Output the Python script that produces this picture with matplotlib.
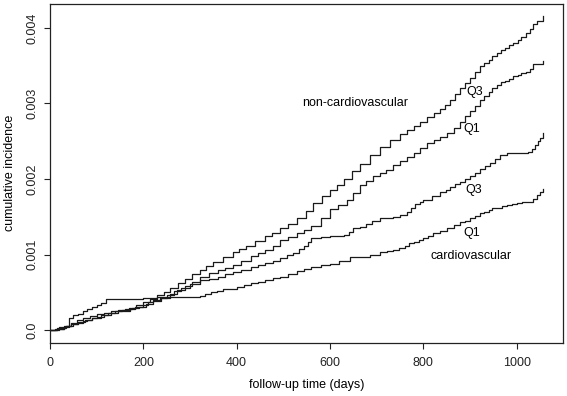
import matplotlib
matplotlib.use("Agg")
import matplotlib.pyplot as plt

plt.rcParams['font.family'] = ['Liberation Sans', 'DejaVu Sans']

# follow-up time (days) and cumulative incidence
nc_q3_t = [0, 15, 30, 45, 60, 75, 90, 110, 125, 140, 155, 170, 185, 200, 215, 230, 245, 257, 275, 290,
           305, 321, 335, 350, 370, 393, 405, 420, 440, 460, 475, 493, 510, 530, 548, 564, 582, 600, 615,
           630, 648, 664, 685, 707, 728, 750, 765, 779, 793, 807, 822, 836, 847, 857, 868, 879, 890, 900,
           910, 921, 930, 940, 948, 957, 966, 975, 984, 993, 1002, 1010, 1020, 1029, 1035, 1043, 1057]
nc_q3_v = [0, 0.00002, 0.00005, 0.00008, 0.00011, 0.00013, 0.00016, 0.0002, 0.00023, 0.00025, 0.00027,
           0.00029, 0.00033, 0.00037, 0.00041, 0.00046, 0.00051, 0.00056, 0.00062, 0.00068, 0.00074,
           0.0008, 0.00085, 0.0009, 0.00097, 0.00104, 0.00108, 0.00112, 0.00118, 0.00124, 0.00129,
           0.00135, 0.0014, 0.00148, 0.00158, 0.00168, 0.00177, 0.00185, 0.00192, 0.002, 0.0021, 0.0022,
           0.00232, 0.00243, 0.00252, 0.0026, 0.00265, 0.0027, 0.00276, 0.00282, 0.00287, 0.00292,
           0.00298, 0.00305, 0.00313, 0.0032, 0.00327, 0.00334, 0.00342, 0.00349, 0.00354, 0.00358,
           0.00363, 0.00367, 0.00371, 0.00374, 0.00377, 0.0038, 0.00384, 0.00388, 0.00393, 0.00398,
           0.00405, 0.00409, 0.00416]

nc_q1_t = [0, 15, 35, 45, 58, 70, 85, 100, 115, 130, 145, 160, 175, 190, 205, 220, 238, 257, 273, 290,
           305, 321, 340, 360, 375, 393, 410, 430, 445, 460, 477, 493, 510, 530, 545, 560, 580, 600, 618,
           636, 650, 664, 678, 693, 707, 720, 735, 750, 765, 779, 793, 807, 822, 836, 850, 865, 879, 890,
           900, 910, 921, 930, 940, 948, 957, 966, 975, 984, 993, 1002, 1010, 1020, 1029, 1035, 1057]
nc_q1_v = [0, 0.00003, 0.00005, 0.0001, 0.00013, 0.00016, 0.00019, 0.00021, 0.00023, 0.00025, 0.00027,
           0.00028, 0.00029, 0.0003, 0.00034, 0.00038, 0.00043, 0.00048, 0.00053, 0.00058, 0.00064,
           0.00071, 0.00075, 0.00079, 0.00082, 0.00086, 0.00092, 0.00098, 0.00102, 0.00106, 0.00112,
           0.00119, 0.00123, 0.00128, 0.00133, 0.00138, 0.00149, 0.0016, 0.00166, 0.00172, 0.00182,
           0.00192, 0.00198, 0.00204, 0.00208, 0.00212, 0.00218, 0.00224, 0.00229, 0.00234, 0.00241,
           0.00248, 0.00252, 0.00256, 0.00261, 0.00268, 0.00276, 0.00283, 0.0029, 0.00297, 0.00305,
           0.0031, 0.00315, 0.0032, 0.00325, 0.00328, 0.0033, 0.00333, 0.00336, 0.00338, 0.0034,
           0.00342, 0.00345, 0.00352, 0.00356]

cv_q3_t = [0, 20, 30, 40, 50, 60, 70, 80, 90, 100, 115, 130, 145, 160, 172, 182, 200, 210, 220, 235,
           250, 265, 280, 300, 321, 340, 360, 375, 393, 410, 430, 445, 460, 477, 493, 507, 520, 533, 545,
           553, 560, 580, 600, 615, 630, 640, 650, 664, 677, 690, 707, 722, 736, 750, 764, 773, 782, 792,
           800, 818, 836, 848, 858, 868, 879, 890, 900, 910, 921, 932, 943, 954, 964, 979, 1000, 1025,
           1032, 1039, 1045, 1050, 1057]
cv_q3_v = [0, 0.00002, 0.00004, 0.00006, 0.00008, 0.0001, 0.00012, 0.00014, 0.00016, 0.00018, 0.0002,
           0.00023, 0.00025, 0.00026, 0.00028, 0.0003, 0.00033, 0.00037, 0.0004, 0.00043, 0.00047,
           0.00052, 0.00056, 0.00061, 0.00066, 0.00068, 0.00071, 0.00074, 0.00077, 0.0008, 0.00084,
           0.00086, 0.00089, 0.00092, 0.00095, 0.00099, 0.00102, 0.00107, 0.00112, 0.00117, 0.00122,
           0.00123, 0.00124, 0.00125, 0.00126, 0.0013, 0.00135, 0.00137, 0.00141, 0.00144, 0.00148,
           0.00149, 0.0015, 0.00153, 0.00157, 0.00162, 0.00167, 0.0017, 0.00172, 0.00177, 0.00183,
           0.00186, 0.0019, 0.00193, 0.00196, 0.002, 0.00204, 0.00208, 0.00213, 0.00217, 0.00221,
           0.00227, 0.00232, 0.00234, 0.00235, 0.00236, 0.0024, 0.00245, 0.0025, 0.00254, 0.00261]

cv_q1_t = [0, 10, 20, 35, 40, 50, 60, 70, 80, 90, 100, 110, 121, 182, 200, 230, 321, 333, 345, 358, 370,
           385, 400, 415, 430, 445, 460, 477, 493, 510, 530, 545, 560, 580, 600, 620, 643, 664, 685, 707,
           722, 736, 748, 760, 770, 779, 790, 800, 810, 821, 836, 850, 865, 879, 890, 900, 910, 921, 930,
           940, 948, 957, 968, 980, 990, 1000, 1012, 1025, 1035, 1043, 1050, 1057]
cv_q1_v = [0, 0.00002, 0.00004, 0.00006, 0.00016, 0.0002, 0.00022, 0.00025, 0.00028, 0.00031, 0.00033,
           0.00036, 0.00041, 0.00041, 0.00043, 0.00044, 0.000455, 0.00048, 0.0005, 0.00052, 0.00054,
           0.00055, 0.00057, 0.0006, 0.00062, 0.00064, 0.00066, 0.00069, 0.00071, 0.00074, 0.00078,
           0.00081, 0.00084, 0.00086, 0.00088, 0.00092, 0.00097, 0.00097, 0.001, 0.00104, 0.00105,
           0.00106, 0.00109, 0.00112, 0.00115, 0.00117, 0.00119, 0.00122, 0.00125, 0.00128, 0.00131,
           0.00135, 0.00139, 0.00143, 0.00145, 0.00148, 0.00151, 0.00155, 0.00157, 0.00159, 0.00161,
           0.00162, 0.00164, 0.00166, 0.00167, 0.00168, 0.00169, 0.0017, 0.00174, 0.00179, 0.00183,
           0.00187]

x_ticks = [0, 200, 400, 600, 800, 1000]
y_ticks = [0.0, 0.001, 0.002, 0.003, 0.004]
y_tick_labels = ["0.0", "0.001", "0.002", "0.003", "0.004"]

W, H = 567, 396
fig = plt.figure(figsize=(W / 100, H / 100), dpi=100)
ax = fig.add_axes([50 / W, 1 - 342.7 / H, 512.7 / W, 338.7 / H])

lc = '#1a1a1a'
for t, v in [(nc_q3_t, nc_q3_v), (nc_q1_t, nc_q1_v), (cv_q3_t, cv_q3_v), (cv_q1_t, cv_q1_v)]:
    ax.plot(t, v, drawstyle='steps-post', color=lc, lw=0.9)

ax.set_xlim(0, 1098.6)
ax.set_ylim(-0.000166, 0.004316)
ax.set_xticks(x_ticks)
ax.set_xticklabels([str(x) for x in x_ticks])
ax.set_yticks(y_ticks)
ax.set_yticklabels(y_tick_labels, rotation=90, va='center')
ax.tick_params(axis='both', direction='out', length=4.5, width=0.8, colors='#222222', labelsize=9)
ax.tick_params(axis='x', pad=6)
ax.tick_params(axis='y', pad=4)
for s in ax.spines.values():
    s.set_linewidth(0.9)
    s.set_color('#222222')

fs = 9
ax.text(654, 0.0030, "non-cardiovascular", fontsize=fs, ha='center', va='center')
ax.text(910, 0.00315, "Q3", fontsize=fs, ha='center', va='center')
ax.text(903, 0.00266, "Q1", fontsize=fs, ha='center', va='center')
ax.text(907, 0.00185, "Q3", fontsize=fs, ha='center', va='center')
ax.text(903, 0.00128, "Q1", fontsize=fs, ha='center', va='center')
ax.text(902, 0.000984, "cardiovascular", fontsize=fs, ha='center', va='center')

fig.text(307 / W, 1 - 385 / H, "follow-up time (days)", fontsize=fs, ha='center', va='center')
fig.text(10 / W, 1 - 173 / H, "cumulative incidence", fontsize=fs, ha='center', va='center', rotation=90)

fig.savefig("out.png", dpi=100)
